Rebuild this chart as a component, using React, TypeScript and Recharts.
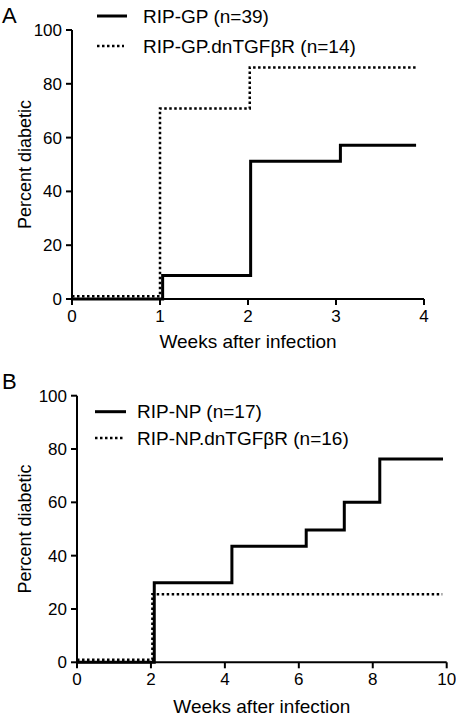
import { LineChart, Line, XAxis, YAxis, Legend } from "recharts";

const FONT = '"Liberation Sans", Arial, Helvetica, sans-serif';

// Panel A: RIP-GP mice, weeks after infection vs percent diabetic
const gpWeeks = [0, 1.03, 2.03, 3.05, 3.91];
const gpPercent = [0, 8.7, 51.2, 57.2, 57.2];
const gpDnWeeks = [0, 1.0, 2.02, 3.93];
const gpDnPercent = [1, 70.8, 86.1, 86.1];

// Panel B: RIP-NP mice
const npWeeks = [0, 2.09, 4.19, 6.2, 7.23, 8.19, 9.9];
const npPercent = [0, 29.8, 43.5, 49.6, 60, 76.3, 76.3];
const npDnWeeks = [0, 2.04, 9.88];
const npDnPercent = [1, 25.5, 25.5];

const weekTicksA = [0, 1, 2, 3, 4];
const weekTicksB = [0, 2, 4, 6, 8, 10];
const percentTicks = [0, 20, 40, 60, 80, 100];

const toPoints = (xs: number[], ys: number[]) => xs.map((x, i) => ({ x, y: ys[i] }));

interface Series {
  name: string;
  dotted: boolean;
  data: { x: number; y: number }[];
}

interface LegendLayout {
  rows: number[];
  x1: number;
  x2Solid: number;
  x2Dotted: number;
  textX: number;
}

interface PanelProps {
  letter: string;
  letterTop: number;
  series: Series[];
  xTicks: number[];
  margin: { top: number; right: number; bottom: number; left: number };
  yAxisWidth: number;
  xAxisHeight: number;
  xLabelOffset: number;
  legend: LegendLayout;
}

const DOT_DASH = "2.5 2.5";

function LegendBox({ series, layout }: { series: Series[]; layout: LegendLayout }) {
  return (
    <svg width={456} height={100} style={{ display: "block" }}>
      {series.map((s, i) => (
        <g key={s.name}>
          <line
            x1={layout.x1}
            x2={s.dotted ? layout.x2Dotted : layout.x2Solid}
            y1={layout.rows[i]}
            y2={layout.rows[i]}
            stroke="#000"
            strokeWidth={s.dotted ? 2.5 : 3}
            strokeDasharray={s.dotted ? DOT_DASH : undefined}
          />
          <text
            x={layout.textX}
            y={layout.rows[i]}
            dominantBaseline="central"
            fontSize={19}
            fontFamily={FONT}
            fill="#000"
          >
            {s.name}
          </text>
        </g>
      ))}
    </svg>
  );
}

function Panel(props: PanelProps) {
  const { letter, letterTop, series, xTicks, margin, yAxisWidth, xAxisHeight, xLabelOffset, legend } = props;
  const xMax = xTicks[xTicks.length - 1];
  const axisStyle = { stroke: "#000", strokeWidth: 2 };
  const tickStyle = { fill: "#000", fontSize: 17, fontFamily: FONT };

  return (
    <div style={{ position: "relative", width: 456, height: 360 }}>
      <LineChart width={456} height={360} margin={margin}>
        <XAxis
          dataKey="x"
          type="number"
          domain={[0, xMax]}
          ticks={xTicks}
          allowDataOverflow
          height={xAxisHeight}
          axisLine={axisStyle}
          tickLine={axisStyle}
          tickSize={6}
          tickMargin={5}
          tick={tickStyle}
          label={{
            value: "Weeks after infection",
            position: "insideBottom",
            offset: xLabelOffset,
            fontSize: 19,
            fontFamily: FONT,
            fill: "#000",
          }}
        />
        <YAxis
          type="number"
          domain={[0, 100]}
          ticks={percentTicks}
          width={yAxisWidth}
          axisLine={axisStyle}
          tickLine={axisStyle}
          tickSize={6}
          tickMargin={4}
          tick={tickStyle}
          label={{
            content: (p: any) => {
              const vb = p.viewBox;
              const cx = vb.x + 25;
              const cy = vb.y + vb.height / 2;
              return (
                <text
                  x={cx}
                  y={cy}
                  transform={`rotate(-90 ${cx} ${cy})`}
                  textAnchor="middle"
                  dominantBaseline="central"
                  fontSize={18}
                  fontFamily={FONT}
                  fill="#000"
                >
                  Percent diabetic
                </text>
              );
            },
          }}
        />
        <Legend
          layout="vertical"
          align="center"
          verticalAlign="middle"
          wrapperStyle={{ left: 0, top: 0, width: 456, height: 100 }}
          content={() => <LegendBox series={series} layout={legend} />}
        />
        {series.map((s) => (
          <Line
            key={s.name}
            name={s.name}
            data={s.data}
            dataKey="y"
            type="stepAfter"
            stroke="#000"
            strokeWidth={s.dotted ? 2.5 : 3}
            strokeDasharray={s.dotted ? DOT_DASH : undefined}
            strokeLinecap="butt"
            dot={false}
            activeDot={false}
            isAnimationActive={false}
          />
        ))}
      </LineChart>
      <div
        style={{
          position: "absolute",
          left: 2,
          top: letterTop,
          fontSize: 22,
          lineHeight: 1,
          fontFamily: FONT,
          color: "#000",
        }}
      >
        {letter}
      </div>
    </div>
  );
}

const panelASeries: Series[] = [
  { name: "RIP-GP.dnTGFβR (n=14)", dotted: true, data: toPoints(gpDnWeeks, gpDnPercent) },
  { name: "RIP-GP (n=39)", dotted: false, data: toPoints(gpWeeks, gpPercent) },
];

const panelBSeries: Series[] = [
  { name: "RIP-NP.dnTGFβR (n=16)", dotted: true, data: toPoints(npDnWeeks, npDnPercent) },
  { name: "RIP-NP (n=17)", dotted: false, data: toPoints(npWeeks, npPercent) },
];

export default function App() {
  return (
    <div
      style={{
        position: "absolute",
        left: 0,
        top: 0,
        width: 456,
        height: 720,
        background: "#fff",
        fontFamily: FONT,
      }}
    >
      <Panel
        letter="A"
        letterTop={5}
        series={panelASeries}
        xTicks={weekTicksA}
        margin={{ top: 30, right: 32, bottom: 0, left: 0 }}
        yAxisWidth={72}
        xAxisHeight={61}
        xLabelOffset={12}
        legend={{ rows: [46, 16], x1: 97, x2Solid: 127, x2Dotted: 124, textX: 143 }}
      />
      <Panel
        letter="B"
        letterTop={11}
        series={panelBSeries}
        xTicks={weekTicksB}
        margin={{ top: 35.7, right: 9.3, bottom: 0, left: 0 }}
        yAxisWidth={77}
        xAxisHeight={57.7}
        xLabelOffset={7}
        legend={{ rows: [78, 51.7], x1: 95, x2Solid: 126, x2Dotted: 123, textX: 137 }}
      />
    </div>
  );
}
